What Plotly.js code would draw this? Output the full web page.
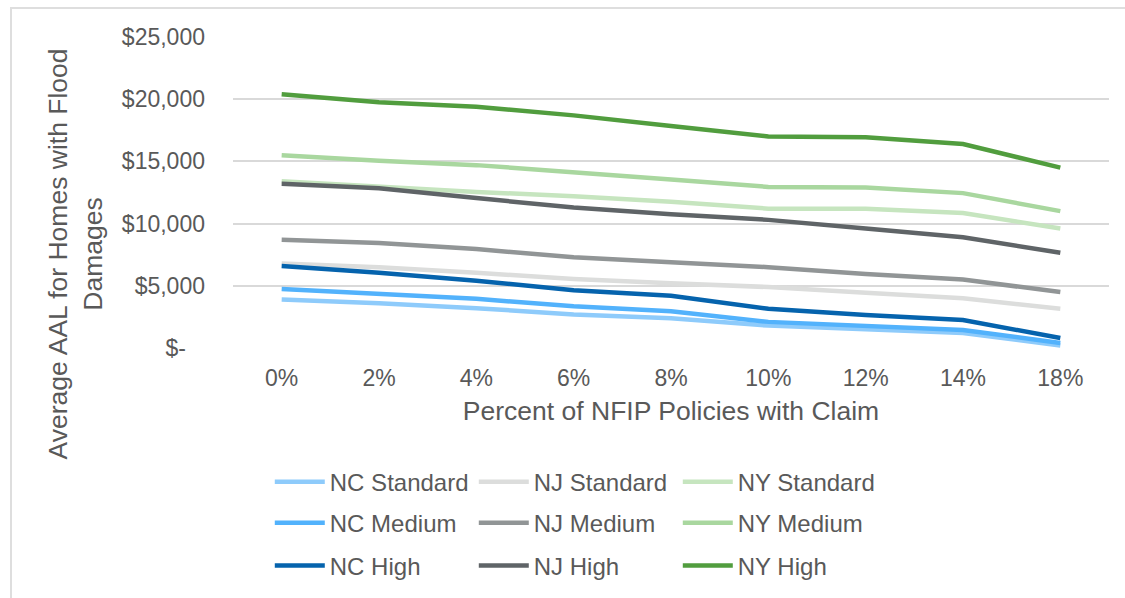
<!DOCTYPE html>
<html>
<head>
<meta charset="utf-8">
<script src="https://cdn.plot.ly/plotly-3.0.1.min.js"></script>
<style>
  html, body { margin: 0; padding: 0; background: #ffffff; }
  #chart { width: 1125px; height: 598px; position: relative; }
  #frame { position: absolute; left: 10px; top: 7px; width: 1130px; height: 600px;
           border: 2px solid #dedede; box-sizing: border-box; pointer-events: none; }
</style>
</head>
<body>
<div id="chart"></div>
<div id="frame"></div>
<script>
const categories = ['0%', '2%', '4%', '6%', '8%', '10%', '12%', '14%', '18%'];

const ncStandard = [3900, 3600, 3200, 2700, 2400, 1800, 1500, 1200, 200];
const njStandard = [6800, 6500, 6050, 5550, 5200, 4900, 4450, 4000, 3150];
const nyStandard = [13400, 12950, 12550, 12200, 11750, 11200, 11200, 10850, 9600];
const ncMedium   = [4750, 4350, 3950, 3350, 2950, 2100, 1750, 1450, 400];
const njMedium   = [8700, 8450, 7950, 7300, 6900, 6500, 5950, 5500, 4500];
const nyMedium   = [15500, 15050, 14700, 14150, 13550, 12950, 12900, 12450, 11000];
const ncHigh     = [6600, 6050, 5400, 4650, 4200, 3150, 2650, 2250, 800];
const njHigh     = [13200, 12850, 12050, 11300, 10750, 10300, 9600, 8900, 7650];
const nyHigh     = [20400, 19750, 19400, 18700, 17850, 17000, 16950, 16400, 14500];

const seriesNames = ['NC Standard', 'NJ Standard', 'NY Standard',
                     'NC Medium', 'NJ Medium', 'NY Medium',
                     'NC High', 'NJ High', 'NY High'];
const seriesValues = [ncStandard, njStandard, nyStandard,
                      ncMedium, njMedium, nyMedium,
                      ncHigh, njHigh, nyHigh];
const seriesColors = ['#8ecbfb', '#dcdddc', '#c6e5bf',
                      '#52b2fc', '#919596', '#a9d79f',
                      '#0563ad', '#5f6467', '#519d3e'];
const seriesLegend = ['legend', 'legend', 'legend',
                      'legend2', 'legend2', 'legend2',
                      'legend3', 'legend3', 'legend3'];

const yTickVals = [0, 5000, 10000, 15000, 20000, 25000];
const yTickText = ['$-\u00a0\u00a0\u00a0', '$5,000', '$10,000', '$15,000', '$20,000', '$25,000'];

const FONT = '"Liberation Sans", Arial, sans-serif';
const TXT = '#595959';

const traces = seriesNames.map((name, i) => ({
  type: 'scatter',
  mode: 'lines',
  name: name,
  x: categories,
  y: seriesValues[i],
  line: { color: seriesColors[i], width: 4.5 },
  legend: seriesLegend[i],
  hoverinfo: 'x+y+name'
}));

const legendBase = {
  orientation: 'h',
  xanchor: 'left',
  yanchor: 'middle',
  x: 0.042,
  entrywidth: 139,
  entrywidthmode: 'pixels',
  itemwidth: 50,
  font: { family: FONT, size: 24, color: TXT },
  bgcolor: 'rgba(0,0,0,0)',
  traceorder: 'normal'
};

const layout = {
  width: 1125,
  height: 598,
  margin: { l: 233, r: 16, t: 37, b: 250, autoexpand: false },
  paper_bgcolor: 'rgba(0,0,0,0)',
  plot_bgcolor: '#ffffff',
  font: { family: FONT, color: TXT },
  showlegend: true,
  xaxis: {
    type: 'category',
    showgrid: false,
    zeroline: false,
    showline: false,
    ticks: '',
    tickfont: { family: FONT, size: 23, color: TXT },
    ticklabelstandoff: 14,
    title: { text: 'Percent of NFIP Policies with Claim',
             font: { family: FONT, size: 26.5, color: TXT }, standoff: 11 },
    range: [-0.5, 8.5],
    automargin: false,
    fixedrange: true
  },
  yaxis: {
    range: [0, 25000],
    tickvals: yTickVals,
    ticktext: yTickText,
    showgrid: true,
    gridcolor: '#d9d9d9',
    gridwidth: 1.5,
    zeroline: false,
    showline: false,
    ticks: '',
    tickfont: { family: FONT, size: 23, color: TXT },
    ticklabelstandoff: 27,
    automargin: false,
    fixedrange: true
  },
  legend:  Object.assign({}, legendBase, { y: -0.431 }),
  legend2: Object.assign({}, legendBase, { y: -0.563 }),
  legend3: Object.assign({}, legendBase, { y: -0.701 }),
  annotations: [{
    text: 'Average AAL for Homes with Flood<br>Damages',
    xref: 'paper', yref: 'paper',
    x: -0.18, y: 0.302,
    xanchor: 'center', yanchor: 'middle',
    textangle: -90,
    showarrow: false,
    font: { family: FONT, size: 26.5, color: TXT }
  }]
};

Plotly.newPlot('chart', traces, layout, { displayModeBar: false, staticPlot: false });
</script>
</body>
</html>
